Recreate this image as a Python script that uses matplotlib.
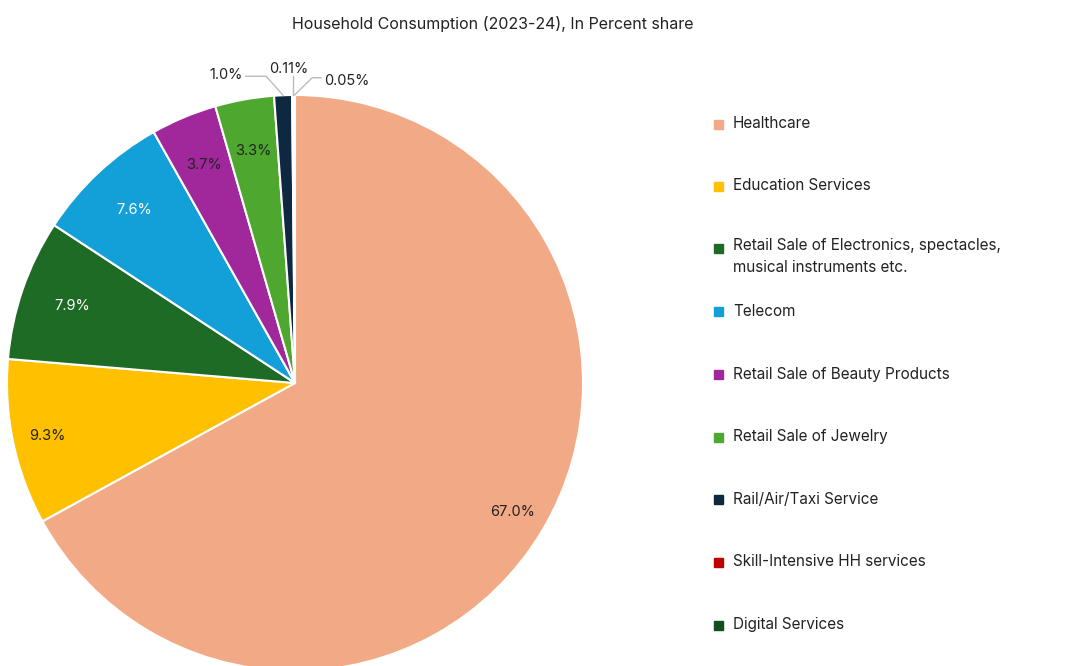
import numpy as np
import matplotlib.pyplot as plt
from matplotlib.patches import Rectangle

plt.rcParams['font.family'] = ['Inter', 'DejaVu Sans']

categories = ['Healthcare', 'Education Services',
              'Retail Sale of Electronics, spectacles,\nmusical instruments etc.',
              'Telecom', 'Retail Sale of Beauty Products', 'Retail Sale of Jewelry',
              'Rail/Air/Taxi Service', 'Skill-Intensive HH services', 'Digital Services']
shares = [67.0, 9.3, 7.9, 7.6, 3.7, 3.3, 1.0, 0.11, 0.05]
labels = ['67.0%', '9.3%', '7.9%', '7.6%', '3.7%', '3.3%', '1.0%', '0.11%', '0.05%']
colors = ['#F2A985', '#FFC000', '#1E6B25', '#13A0D8', '#A0289A', '#4EA72E',
          '#0E2841', '#C00000', '#124F1E']
label_colors = ['#222222', '#222222', 'white', 'white', '#222222', '#222222']

W, H = 1085, 666
fig = plt.figure(figsize=(W / 100, H / 100), dpi=100)
ax = fig.add_axes([7 / W, -5 / H, 576 / W, 576 / H])
wedges, _ = ax.pie(shares, colors=colors, startangle=90, counterclock=False,
                   wedgeprops=dict(edgecolor='white', linewidth=1.5))
ax.set_xlim(-1, 1)
ax.set_ylim(-1, 1)
ax.set_aspect('equal')
ax.axis('off')

total = sum(shares)
outside = {6: (-0.18, 1.07, 'right'), 7: (-0.02, 1.09, 'center'), 8: (0.10, 1.05, 'left')}
cum = 0
for i, v in enumerate(shares):
    mid = 90 - (cum + v / 2) / total * 360
    cum += v
    a = np.deg2rad(mid)
    ex, ey = np.cos(a), np.sin(a)
    if i < 6:
        r = 0.88 if i < 2 else 0.82
        ax.text(r * ex, r * ey, labels[i], ha='center', va='center',
                fontsize=10.5, color=label_colors[i])
    else:
        # small slices labelled outside with leader lines
        tx, ty, ha = outside[i]
        if i == 6:
            pts = [(ex, ey), (-0.1, 1.065), (tx + 0.01, 1.065)]
        elif i == 7:
            pts = [(ex, ey), (ex, 1.065)]
        else:
            pts = [(ex, ey), (0.06, 1.06), (tx - 0.01, 1.06)]
        xs, ys = zip(*pts)
        ax.plot(xs, ys, color='#BBBBBB', lw=1, clip_on=False)
        ax.text(tx, ty, labels[i], ha=ha, va='center', fontsize=10.5, color='#222222',
                clip_on=False)

fig.text(493 / W, 1 - 24 / H, 'Household Consumption (2023-24), In Percent share',
         ha='center', va='center', fontsize=11.5, color='#222222')

rows = [124, 186, 248, 311, 374, 437, 499, 562, 625]
for name, c, y in zip(categories, colors, rows):
    fig.patches.append(Rectangle((714 / W, 1 - (y + 5) / H), 9 / W, 9 / H,
                                 transform=fig.transFigure, color=c))
    if '\n' in name:
        fig.text(733 / W, 1 - (y - 10) / H, name, ha='left', va='top',
                 fontsize=11, color='#222222', linespacing=1.6)
    else:
        fig.text(733 / W, 1 - y / H, name, ha='left', va='center',
                 fontsize=11, color='#222222')

fig.savefig('out.png', dpi=100)
